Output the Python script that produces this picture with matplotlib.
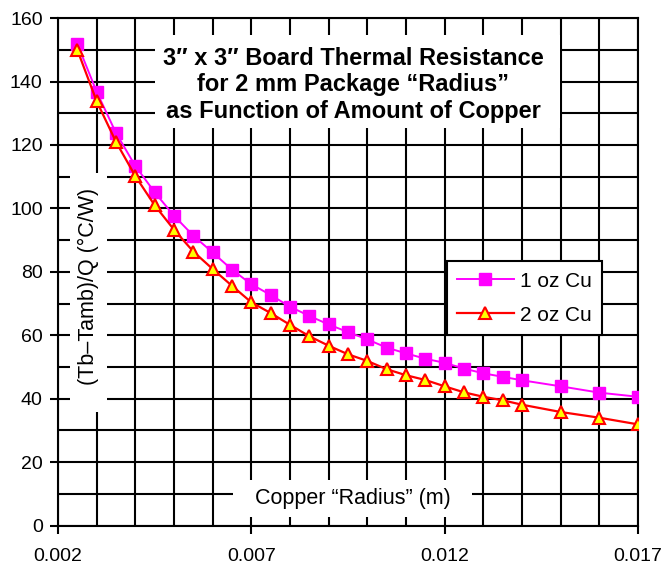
import numpy as np
import matplotlib
matplotlib.use("Agg")
import matplotlib.pyplot as plt
from matplotlib.patches import Rectangle
from matplotlib.ticker import MultipleLocator, FormatStrFormatter

plt.rcParams['font.family'] = ['Liberation Sans', 'DejaVu Sans']

# copper radius (m) and board thermal resistance (C/W)
radius = [0.0025, 0.0030, 0.0035, 0.0040, 0.0045, 0.0050, 0.0055, 0.0060, 0.0065,
          0.0070, 0.0075, 0.0080, 0.0085, 0.0090, 0.0095, 0.0100, 0.0105, 0.0110,
          0.0115, 0.0120, 0.0125, 0.0130, 0.0135, 0.0140, 0.0150, 0.0160, 0.0170]
cu_1oz = [151.9, 136.8, 123.8, 113.4, 105.1, 97.7, 91.4, 86.1, 80.7,
          76.1, 72.7, 69.0, 66.1, 63.4, 61.0, 58.7, 56.1, 54.3,
          52.6, 51.3, 49.5, 48.0, 46.9, 45.8, 43.9, 41.9, 40.6]
cu_2oz = [150.0, 133.8, 121.0, 110.2, 101.0, 93.3, 86.4, 80.9, 75.6,
          70.4, 67.0, 63.3, 59.7, 56.7, 54.0, 51.9, 49.3, 47.4,
          45.9, 43.9, 42.0, 40.6, 39.5, 38.1, 35.8, 34.0, 31.9]
xticks = [0.002, 0.007, 0.012, 0.017]

fig = plt.figure(figsize=(6.65, 5.65), dpi=100)
ax = fig.add_axes([0.0872, 0.0699, 0.872, 0.898])

ax.plot(radius, cu_1oz, color='#FF00FF', lw=1.4, marker='s', ms=8.7,
        mfc='#FF00FF', mec='#FF00FF', label='1 oz Cu', zorder=4)
ax.plot(radius, cu_2oz, color='#FF0000', lw=1.6, marker='^', ms=8.7,
        mfc='#FFFF00', mec='#FF0000', mew=1.5, label='2 oz Cu', zorder=5)

ax.set_xlim(0.002, 0.017)
ax.set_ylim(0, 160)
ax.set_xticks(xticks)
ax.xaxis.set_minor_locator(MultipleLocator(0.001))
ax.xaxis.set_major_formatter(FormatStrFormatter('%.3f'))
ax.yaxis.set_major_locator(MultipleLocator(20))
ax.yaxis.set_minor_locator(MultipleLocator(10))

ax.grid(which='both', color='black', lw=1.5)
ax.set_axisbelow(True)
for s in ax.spines.values():
    s.set_linewidth(1.5)
ax.tick_params(which='major', direction='out', length=6, width=1.5, labelsize=14)
ax.tick_params(axis='x', which='major', pad=10)
ax.tick_params(axis='y', which='major', pad=5)
ax.tick_params(which='minor', length=0)

# white panels behind the in-plot labels
for x0, y0, w, h in [(0.167, 0.783, 0.699, 0.183),
                     (0.0207, 0.2236, 0.0638, 0.471),
                     (0.3017, 0.0167, 0.412, 0.073)]:
    ax.add_patch(Rectangle((x0, y0), w, h, transform=ax.transAxes,
                           fc='white', ec='none', zorder=2))

ax.text(0.509, 0.869,
        '3\u2033 x 3\u2033 Board Thermal Resistance\nfor 2 mm Package \u201cRadius\u201d\nas Function of Amount of Copper',
        transform=ax.transAxes, ha='center', va='center', fontsize=17,
        fontweight='bold', linespacing=1.2, zorder=3)
ax.text(0.052, 0.472, '(Tb\u2013Tamb)/Q (\u00b0C/W)', transform=ax.transAxes,
        rotation=90, ha='center', va='center', fontsize=15.5, zorder=3)
ax.text(0.508, 0.054, 'Copper \u201cRadius\u201d (m)', transform=ax.transAxes,
        ha='center', va='center', fontsize=15.5, zorder=3)

leg = ax.legend(loc='upper left', bbox_to_anchor=(0.6707, 0.521), fontsize=15,
                frameon=True, fancybox=False, framealpha=1, edgecolor='black',
                borderaxespad=0, handlelength=2.7, handletextpad=0.3,
                borderpad=0.5, labelspacing=0.72)
leg.get_frame().set_linewidth(1.5)
leg.set_zorder(6)

fig.savefig('out.png', dpi=100)
